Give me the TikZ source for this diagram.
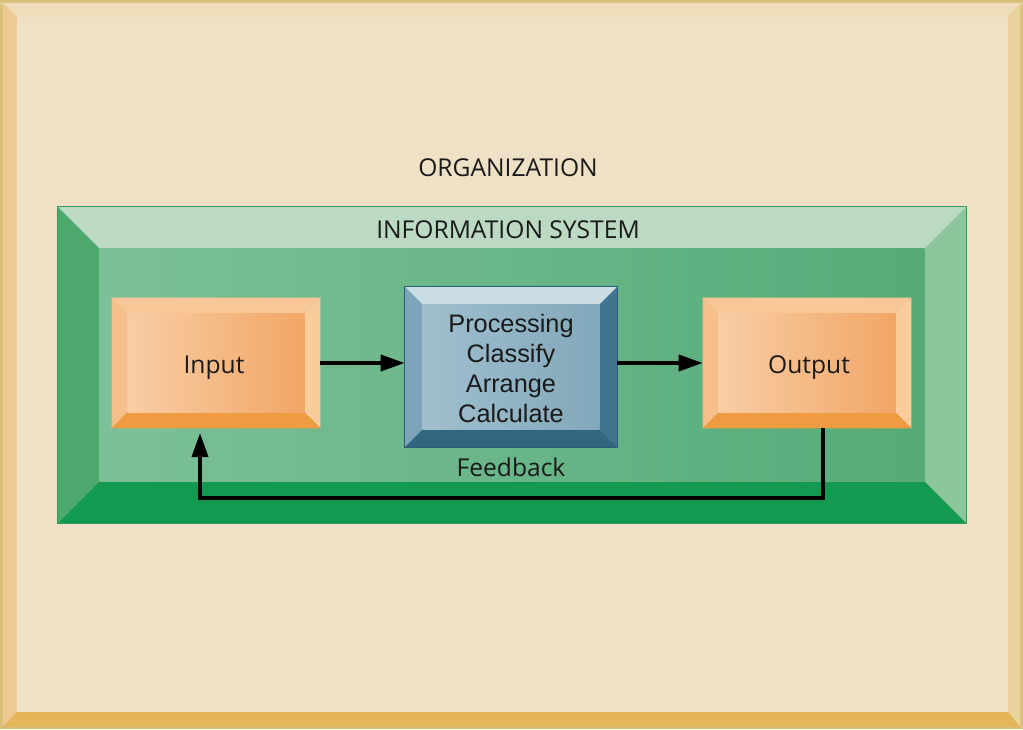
\documentclass[tikz,border=0pt]{standalone}
\usepackage{fontspec}
\setmainfont{Open Sans}
\newfontfamily\arialfont{Liberation Sans}
\usetikzlibrary{arrows.meta, calc}
\definecolor{paper}{HTML}{EFE1C5}
\definecolor{frameedge}{HTML}{D9BE7C}
\definecolor{frametop}{HTML}{EEDDB9}
\definecolor{frameleft}{HTML}{EDCA93}
\definecolor{frameright}{HTML}{EAD29D}
\definecolor{framebottom}{HTML}{E4B65A}
\definecolor{textgray}{HTML}{1A1A1A}
\definecolor{systop}{HTML}{BBDAC1}
\definecolor{sysleft}{HTML}{4DA96D}
\definecolor{sysright}{HTML}{8DC59D}
\definecolor{sysbottom}{HTML}{149A50}
\definecolor{sysfaceA}{HTML}{7CC097}
\definecolor{sysfaceB}{HTML}{55AB78}
\definecolor{sysedge}{HTML}{2F9A5C}
\definecolor{orgtop}{HTML}{F8C797}
\definecolor{orgleft}{HTML}{F6BE8A}
\definecolor{orgright}{HTML}{FACB9B}
\definecolor{orgbottom}{HTML}{EE9B42}
\definecolor{orgfaceA}{HTML}{F8CDA5}
\definecolor{orgfaceB}{HTML}{F1A666}
\definecolor{proctop}{HTML}{CADDE6}
\definecolor{procleft}{HTML}{7DA4B9}
\definecolor{procright}{HTML}{41748F}
\definecolor{procbottom}{HTML}{30677F}
\definecolor{procfaceA}{HTML}{A0BFCE}
\definecolor{procfaceB}{HTML}{82A8BB}
\definecolor{procedge}{HTML}{2D5E78}
\tikzset{
    bevelbox/.style = {rectangle, inner sep=0pt},
    boxlabel/.style = {font=\fontsize{17.5}{21}\selectfont, text=textgray},
    proclabel/.style = {font=\arialfont\fontsize{18}{21.3}\selectfont, align=center, text=textgray},
    arrow/.style = {line width=2.6pt, -{Triangle[length=0.6cm, width=0.4cm]}}
}
% #1 node, #2 depth, #3 top, #4 left, #5 right, #6 bottom, #7/#8 face shading
\newcommand{\drawbevel}[8]{%
    \coordinate (#1-nw) at ($(#1.north west)+(#2,-#2)$);
    \coordinate (#1-ne) at ($(#1.north east)+(-#2,-#2)$);
    \coordinate (#1-sw) at ($(#1.south west)+(#2,#2)$);
    \coordinate (#1-se) at ($(#1.south east)+(-#2,#2)$);
    \fill[#3] (#1.north west) -- (#1.north east) -- (#1-ne) -- (#1-nw) -- cycle;
    \fill[#4] (#1.north west) -- (#1-nw) -- (#1-sw) -- (#1.south west) -- cycle;
    \fill[#5] (#1.north east) -- (#1-ne) -- (#1-se) -- (#1.south east) -- cycle;
    \fill[#6] (#1.south west) -- (#1-sw) -- (#1-se) -- (#1.south east) -- cycle;
    \shade[left color=#7, right color=#8] (#1-nw) rectangle (#1-se);
}

\begin{document}
\begin{tikzpicture}[x=0.025cm, y=-0.025cm]
	\useasboundingbox (0,0) rectangle (1023,729);

	% paper frame
	\fill[frameedge] (0,0) rectangle (1023,729);
	\fill[frametop] (0,3) -- (1023,3) -- (1008,17) -- (17,17) -- cycle;
	\fill[frameleft] (3,3) -- (17,17) -- (17,712) -- (3,727) -- cycle;
	\fill[frameright] (1020,3) -- (1008,17) -- (1008,712) -- (1020,727) -- cycle;
	\fill[framebottom] (3,727) -- (17,712) -- (1008,712) -- (1020,727) -- cycle;
	\fill[paper] (17,17) rectangle (1008,712);

	\node[boxlabel] (orglabel) at (508,168) {ORGANIZATION};

	% information system
	\node[bevelbox, minimum width=22.7cm, minimum height=7.9cm] (infosys) at (512,365) {};
	\drawbevel{infosys}{1.05cm}{systop}{sysleft}{sysright}{sysbottom}{sysfaceA}{sysfaceB}
	\draw[sysedge, line width=0.8pt] (infosys.north west) rectangle (infosys.south east);
	\node[boxlabel] (syslabel) at (508,230) {INFORMATION SYSTEM};

	% input, processing, output
	\node[bevelbox, minimum width=5.2cm, minimum height=3.25cm] (input) at (216,363) {};
	\drawbevel{input}{0.4cm}{orgtop}{orgleft}{orgright}{orgbottom}{orgfaceA}{orgfaceB}
	\node[boxlabel, anchor=center] at ([xshift=-0.05cm, yshift=-0.12cm]input.center) {Input};

	\node[bevelbox, minimum width=5.3cm, minimum height=4cm] (proc) at (511,367) {};
	\drawbevel{proc}{0.45cm}{proctop}{procleft}{procright}{procbottom}{procfaceA}{procfaceB}
	\draw[procedge, line width=0.6pt] (proc.north west) rectangle (proc.south east);
	\node[proclabel, anchor=center] at ([yshift=-0.03cm]proc.center) {Processing\\Classify\\Arrange\\Calculate};

	\node[bevelbox, minimum width=5.2cm, minimum height=3.25cm] (output) at (807,363) {};
	\drawbevel{output}{0.4cm}{orgtop}{orgleft}{orgright}{orgbottom}{orgfaceA}{orgfaceB}
	\node[boxlabel, anchor=center] at ([xshift=0.05cm, yshift=-0.12cm]output.center) {Output};

	% flow
	\draw[arrow] (input.east) -- (input.east -| proc.west);
	\draw[arrow] (proc.east |- output.west) -- (output.west);
	\draw[arrow, shorten >=0.12cm] ([xshift=0.4cm]output.south) -- ++(0,-1.75cm) -| ([xshift=-0.4cm]input.south);
	\node[boxlabel] (fblabel) at (511,467) {Feedback};
\end{tikzpicture}
\end{document}
